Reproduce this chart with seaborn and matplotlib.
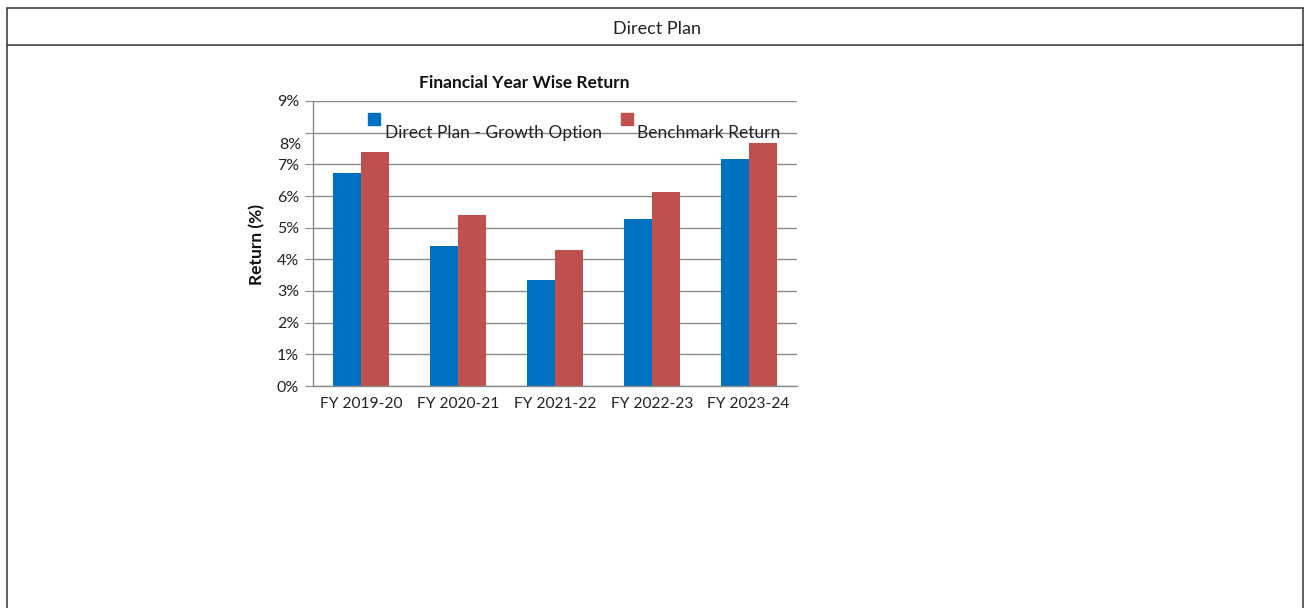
import numpy as np
import pandas as pd
import matplotlib.pyplot as plt
import seaborn as sns
from matplotlib.patches import Rectangle
from matplotlib.lines import Line2D

years = ['FY 2019-20', 'FY 2020-21', 'FY 2021-22', 'FY 2022-23', 'FY 2023-24']
fund_returns = [6.73, 4.42, 3.35, 5.27, 7.17]
benchmark_returns = [7.39, 5.40, 4.29, 6.13, 7.67]
series_names = ['Direct Plan - Growth Option', 'Benchmark Return']
colors = ['#0070C0', '#C0504D']
yticks = list(range(10))

df = pd.DataFrame({
    'year': years * 2,
    'ret': fund_returns + benchmark_returns,
    'series': [series_names[0]] * len(years) + [series_names[1]] * len(years),
})

sns.set_style('white')
plt.rcParams['font.family'] = ['Lato', 'DejaVu Sans']

W, H = 1309, 608
fig = plt.figure(figsize=(W / 100, H / 100), dpi=100)

def fx(x):
    return x / W

def fy(y):
    return 1 - y / H

# outer table frame
frame_kw = dict(color='#333333', lw=1.1, transform=fig.transFigure)
fig.add_artist(Line2D([fx(7), fx(1303)], [fy(8), fy(8)], **frame_kw))
fig.add_artist(Line2D([fx(7), fx(1303)], [fy(45), fy(45)], **frame_kw))
fig.add_artist(Line2D([fx(7), fx(7)], [fy(8), fy(608)], **frame_kw))
fig.add_artist(Line2D([fx(1303), fx(1303)], [fy(8), fy(608)], **frame_kw))
fig.text(fx(657), fy(29), 'Direct Plan', ha='center', va='center', fontsize=13,
         color='#222222')

ax = fig.add_axes([fx(313), fy(386), 484 / W, 285 / H])
sns.barplot(data=df, x='year', y='ret', hue='series', palette=colors, width=0.58,
            gap=0, saturation=1, errorbar=None, legend=False, linewidth=0, ax=ax)

ax.set_xlim(-0.5, len(years) - 0.5)
ax.set_ylim(0, 9)
ax.set_yticks(yticks)
ax.set_yticklabels([f'{v}%' if v != 8 else '' for v in yticks], fontsize=11.5, color='#222222')
# the 8% label sits a bit below its gridline in the original
ax.text(-0.023, 7.62, '8%', transform=ax.get_yaxis_transform(), ha='right', va='center',
        fontsize=11.5, color='#222222')
ax.yaxis.grid(True, color='#8a8a8a', lw=1)
ax.set_axisbelow(True)
ax.set_xlabel('')
ax.set_ylabel('')
ax.tick_params(axis='x', which='major', length=0, labelsize=11.2, pad=8, labelcolor='#222222')
ax.set_xticks(np.arange(-0.5, len(years)), minor=True)
ax.tick_params(axis='x', which='minor', length=6, color='#8a8a8a', direction='out')
ax.tick_params(axis='y', length=6, color='#8a8a8a', direction='out', left=True, pad=4)
for s in ['top', 'right']:
    ax.spines[s].set_visible(False)
for s in ['left', 'bottom']:
    ax.spines[s].set_color('#8a8a8a')
    ax.spines[s].set_linewidth(1)

fig.text(fx(524), fy(83), 'Financial Year Wise Return', ha='center', va='center',
         fontsize=12.5, fontweight='bold', color='#111111')
fig.text(fx(257), fy(244), 'Return (%)', ha='center', va='center', rotation=90,
         fontsize=12.5, fontweight='bold', color='#111111')

# legend, drawn the way the original lays it out
for cx, tx, name, c in zip([374, 627], [385, 637], series_names, colors):
    fig.add_artist(Rectangle((fx(cx - 6), fy(125)), 12 / W, 12 / H, color=c,
                             transform=fig.transFigure))
    fig.text(fx(tx), fy(133), name, ha='left', va='center', fontsize=12.5, color='#222222')

fig.savefig('out.png', dpi=100)
